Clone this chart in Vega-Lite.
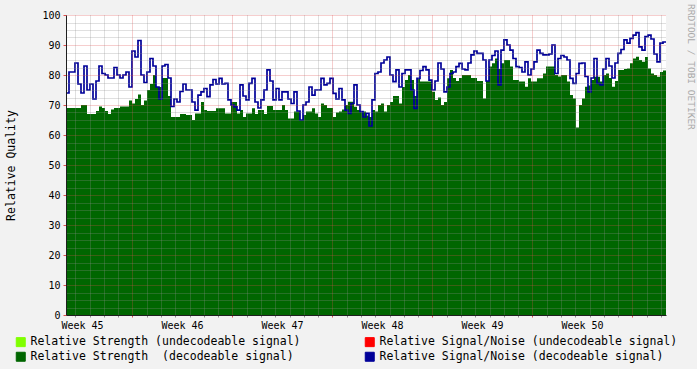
{
  "$schema": "https://vega.github.io/schema/vega-lite/v6.json",
  "width": 600,
  "height": 300,
  "autosize": {"type": "none"},
  "padding": {"left": 66, "top": 15, "right": 31, "bottom": 54},
  "background": "#f2f2f2",
  "title": {"text": "RRDTOOL / TOBI OETIKER", "orient": "right", "anchor": "start", "font": "DejaVu Sans Mono", "fontSize": 9.5, "fontWeight": "normal", "color": "#a8a8a8", "offset": 8, "dx": -6},
  "data": {"values": [
    {"t":0,"strength":69,"sn":74},{"t":0.21,"strength":69,"sn":81},{"t":0.42,"strength":69,"sn":81},{"t":0.63,"strength":69,"sn":84},{"t":0.84,"strength":69,"sn":77},
    {"t":1.05,"strength":70,"sn":74},{"t":1.26,"strength":70,"sn":83},{"t":1.47,"strength":67,"sn":75},{"t":1.68,"strength":67,"sn":77},{"t":1.89,"strength":67,"sn":72},
    {"t":2.1,"strength":68,"sn":78},{"t":2.31,"strength":69.5,"sn":83},{"t":2.52,"strength":69,"sn":80.5},{"t":2.73,"strength":68,"sn":80},{"t":2.94,"strength":67,"sn":79},
    {"t":3.15,"strength":68.5,"sn":79},{"t":3.36,"strength":69,"sn":82.5},{"t":3.57,"strength":69,"sn":80},{"t":3.78,"strength":69.5,"sn":79},{"t":3.99,"strength":69.5,"sn":80},
    {"t":4.2,"strength":69.5,"sn":81},{"t":4.41,"strength":71.5,"sn":76},{"t":4.62,"strength":70.5,"sn":88},{"t":4.83,"strength":72,"sn":86},{"t":5.04,"strength":73.5,"sn":91.5},
    {"t":5.25,"strength":70,"sn":80},{"t":5.46,"strength":71.5,"sn":77.5},{"t":5.67,"strength":75,"sn":81},{"t":5.88,"strength":77,"sn":85.5},{"t":6.09,"strength":80,"sn":83},
    {"t":6.3,"strength":76,"sn":76},{"t":6.51,"strength":76,"sn":72},{"t":6.72,"strength":79,"sn":83},{"t":6.93,"strength":79,"sn":83.5},{"t":7.14,"strength":73,"sn":79},
    {"t":7.35,"strength":66,"sn":69.5},{"t":7.56,"strength":66,"sn":72},{"t":7.77,"strength":66,"sn":71},{"t":7.98,"strength":67,"sn":74.5},{"t":8.19,"strength":67,"sn":77},
    {"t":8.4,"strength":66.7,"sn":75},{"t":8.61,"strength":66.7,"sn":75},{"t":8.82,"strength":65,"sn":71},{"t":9.03,"strength":67.2,"sn":68.3},{"t":9.24,"strength":67.2,"sn":73.3},
    {"t":9.45,"strength":71,"sn":74.4},{"t":9.66,"strength":68.3,"sn":75.5},{"t":9.87,"strength":68,"sn":72.8},{"t":10.08,"strength":68,"sn":76.7},{"t":10.29,"strength":68,"sn":78.5},
    {"t":10.5,"strength":68.9,"sn":77},{"t":10.71,"strength":68.9,"sn":78.9},{"t":10.92,"strength":68.9,"sn":77},{"t":11.13,"strength":67.2,"sn":77.2},{"t":11.34,"strength":67.2,"sn":71.7},
    {"t":11.55,"strength":71,"sn":70},{"t":11.76,"strength":71,"sn":69.4},{"t":11.97,"strength":67.2,"sn":68.3},{"t":12.18,"strength":68.3,"sn":76.7},{"t":12.39,"strength":66,"sn":73},
    {"t":12.6,"strength":67.2,"sn":71.7},{"t":12.81,"strength":67.2,"sn":77.2},{"t":13.02,"strength":68.9,"sn":78.9},{"t":13.23,"strength":67,"sn":71},{"t":13.44,"strength":68.3,"sn":69},
    {"t":13.65,"strength":68.3,"sn":71.7},{"t":13.86,"strength":67,"sn":75},{"t":14.07,"strength":69.7,"sn":81.7},{"t":14.28,"strength":69.7,"sn":78},{"t":14.49,"strength":68.3,"sn":71.7},
    {"t":14.7,"strength":68.3,"sn":75.5},{"t":14.91,"strength":68.3,"sn":71.7},{"t":15.12,"strength":70,"sn":74.4},{"t":15.33,"strength":68.3,"sn":74.4},{"t":15.54,"strength":65.5,"sn":72},
    {"t":15.75,"strength":65.5,"sn":70.5},{"t":15.96,"strength":67.8,"sn":74.4},{"t":16.17,"strength":67.8,"sn":68},{"t":16.38,"strength":65,"sn":65},{"t":16.59,"strength":66.7,"sn":70},
    {"t":16.8,"strength":67.8,"sn":71},{"t":17.01,"strength":67.8,"sn":76},{"t":17.22,"strength":68.9,"sn":73.3},{"t":17.43,"strength":67.2,"sn":75},{"t":17.64,"strength":66,"sn":75},
    {"t":17.85,"strength":70.5,"sn":78.9},{"t":18.06,"strength":70,"sn":76.7},{"t":18.27,"strength":69,"sn":77.2},{"t":18.48,"strength":69,"sn":78.9},{"t":18.69,"strength":66,"sn":73.9},
    {"t":18.9,"strength":67.5,"sn":72},{"t":19.11,"strength":67.8,"sn":75.5},{"t":19.32,"strength":68.5,"sn":71.7},{"t":19.53,"strength":70,"sn":68.3},{"t":19.74,"strength":71.1,"sn":67.2},
    {"t":19.95,"strength":71.1,"sn":70.5},{"t":20.16,"strength":69.4,"sn":76.7},{"t":20.37,"strength":68.3,"sn":70},{"t":20.58,"strength":67.8,"sn":67.8},{"t":20.79,"strength":67.8,"sn":66},
    {"t":21,"strength":66.5,"sn":67.2},{"t":21.21,"strength":66,"sn":63},{"t":21.42,"strength":68.3,"sn":71.7},{"t":21.63,"strength":67.8,"sn":80.5},{"t":21.84,"strength":70,"sn":81},
    {"t":22.05,"strength":70.5,"sn":84},{"t":22.26,"strength":67.8,"sn":85},{"t":22.47,"strength":70,"sn":86},{"t":22.68,"strength":71,"sn":80},{"t":22.89,"strength":73,"sn":77.8},
    {"t":23.1,"strength":73,"sn":81.7},{"t":23.31,"strength":70.5,"sn":76},{"t":23.52,"strength":76,"sn":80.5},{"t":23.73,"strength":78.3,"sn":81.7},{"t":23.94,"strength":80,"sn":81.7},
    {"t":24.15,"strength":78.3,"sn":75},{"t":24.36,"strength":73,"sn":68.9},{"t":24.57,"strength":78.9,"sn":78.9},{"t":24.78,"strength":77.8,"sn":81.5},{"t":24.99,"strength":77.8,"sn":82.8},
    {"t":25.2,"strength":77.8,"sn":81.7},{"t":25.41,"strength":77.8,"sn":78.3},{"t":25.62,"strength":74.4,"sn":75},{"t":25.83,"strength":71.7,"sn":78},{"t":26.04,"strength":72.5,"sn":84},
    {"t":26.25,"strength":70,"sn":82},{"t":26.46,"strength":71,"sn":74.4},{"t":26.67,"strength":78.9,"sn":76},{"t":26.88,"strength":81.7,"sn":80.5},{"t":27.09,"strength":79,"sn":81},
    {"t":27.3,"strength":78,"sn":82.8},{"t":27.51,"strength":79,"sn":83.9},{"t":27.72,"strength":80,"sn":82},{"t":27.93,"strength":80,"sn":81.7},{"t":28.14,"strength":80,"sn":84},
    {"t":28.35,"strength":79,"sn":86.7},{"t":28.56,"strength":79,"sn":88},{"t":28.77,"strength":78,"sn":87.2},{"t":28.98,"strength":78,"sn":87.2},{"t":29.19,"strength":72.2,"sn":85},
    {"t":29.4,"strength":78,"sn":78},{"t":29.61,"strength":82.8,"sn":85},{"t":29.82,"strength":83.9,"sn":86.5},{"t":30.03,"strength":85.5,"sn":88},{"t":30.24,"strength":82,"sn":76.7},
    {"t":30.45,"strength":83.9,"sn":88.3},{"t":30.66,"strength":85,"sn":91.7},{"t":30.87,"strength":85,"sn":90},{"t":31.08,"strength":82.8,"sn":88.3},{"t":31.29,"strength":78.3,"sn":85.5},
    {"t":31.5,"strength":78.3,"sn":82.8},{"t":31.71,"strength":77.8,"sn":82.5},{"t":31.92,"strength":77.8,"sn":81},{"t":32.13,"strength":76.1,"sn":84.4},{"t":32.34,"strength":78.9,"sn":80},
    {"t":32.55,"strength":77.8,"sn":82},{"t":32.76,"strength":77.8,"sn":84.4},{"t":32.97,"strength":78.9,"sn":88.3},{"t":33.18,"strength":78.9,"sn":87.2},{"t":33.39,"strength":80.5,"sn":86.7},
    {"t":33.6,"strength":82.8,"sn":86.7},{"t":33.81,"strength":82.8,"sn":87},{"t":34.02,"strength":82.8,"sn":90},{"t":34.23,"strength":80,"sn":80.5},{"t":34.44,"strength":79.5,"sn":85.5},
    {"t":34.65,"strength":80,"sn":86.5},{"t":34.86,"strength":80,"sn":86},{"t":35.07,"strength":77.8,"sn":85},{"t":35.28,"strength":73.3,"sn":78.9},{"t":35.49,"strength":72.2,"sn":77.2},
    {"t":35.7,"strength":62.5,"sn":80.5},{"t":35.91,"strength":70,"sn":83.9},{"t":36.12,"strength":72.2,"sn":84},{"t":36.33,"strength":76.1,"sn":79.5},{"t":36.54,"strength":76.5,"sn":74.4},
    {"t":36.75,"strength":78.3,"sn":79},{"t":36.96,"strength":79.4,"sn":85.5},{"t":37.17,"strength":79.4,"sn":77.2},{"t":37.38,"strength":77.8,"sn":76.7},{"t":37.59,"strength":80,"sn":82},
    {"t":37.8,"strength":80.5,"sn":85.5},{"t":38.01,"strength":79,"sn":83},{"t":38.22,"strength":76.1,"sn":79},{"t":38.43,"strength":78,"sn":84},{"t":38.64,"strength":81.7,"sn":87.2},
    {"t":38.85,"strength":81.7,"sn":88.5},{"t":39.06,"strength":82,"sn":91.7},{"t":39.27,"strength":82.2,"sn":90.6},{"t":39.48,"strength":83.9,"sn":92.2},{"t":39.69,"strength":85.5,"sn":93.3},
    {"t":39.9,"strength":86.1,"sn":94.1},{"t":40.11,"strength":85,"sn":89.4},{"t":40.32,"strength":84.4,"sn":88.3},{"t":40.53,"strength":86,"sn":92.8},{"t":40.74,"strength":82.2,"sn":93.3},
    {"t":40.95,"strength":80.5,"sn":92},{"t":41.16,"strength":80,"sn":87},{"t":41.37,"strength":79.4,"sn":84.4},{"t":41.58,"strength":81,"sn":90.6},{"t":41.79,"strength":81.5,"sn":91},
    {"t":42,"strength":81.5,"sn":91}
  ]},
  "encoding": {
    "x": {
      "field": "t", "type": "quantitative",
      "scale": {"domain": [0, 42], "nice": false, "zero": false},
      "axis": {
        "title": null,
        "values": [0.65,1.65,2.65,3.65,4.65,5.65,6.65,7.65,8.65,9.65,10.65,11.65,12.65,13.65,14.65,15.65,16.65,17.65,18.65,19.65,20.65,21.65,22.65,23.65,24.65,25.65,26.65,27.65,28.65,29.65,30.65,31.65,32.65,33.65,34.65,35.65,36.65,37.65,38.65,39.65,40.65,41.65],
        "labelExpr": "indexof([0.65,7.65,14.65,21.65,28.65,35.65], datum.value) >= 0 ? 'Week ' + (45 + round((datum.value - 0.65) / 7)) : ''",
        "labelOffset": 6.7,
        "labelAlign": "center",
        "labelBaseline": "top",
        "labelFlush": false,
        "labelOverlap": false,
        "labelPadding": 3,
        "labelFont": "DejaVu Sans Mono",
        "labelFontSize": 10,
        "labelColor": "#000000",
        "tickSize": 2,
        "tickColor": {"condition": {"test": "indexof([4.65,11.65,18.65,25.65,32.65,39.65], datum.value) >= 0", "value": "#de4f4f"}, "value": "#8f8f8f"},
        "grid": true,
        "gridColor": {"condition": {"test": "indexof([4.65,11.65,18.65,25.65,32.65,39.65], datum.value) >= 0", "value": "#de4f4f"}, "value": "#8f8f8f"},
        "gridDash": [1, 1],
        "gridOpacity": 0.55,
        "domainColor": "#1f1f1f",
        "zindex": 1
      }
    }
  },
  "layer": [
    {
      "mark": {"type": "area", "interpolate": "step-after"},
      "encoding": {
        "y": {
          "field": "strength", "type": "quantitative", "title": "Relative Quality",
          "scale": {"domain": [0, 100], "nice": false, "zero": true},
          "axis": {
            "values": [0,2.5,5,7.5,10,12.5,15,17.5,20,22.5,25,27.5,30,32.5,35,37.5,40,42.5,45,47.5,50,52.5,55,57.5,60,62.5,65,67.5,70,72.5,75,77.5,80,82.5,85,87.5,90,92.5,95,97.5,100],
            "labelExpr": "datum.value % 10 === 0 ? datum.label : ''",
            "labelFont": "DejaVu Sans Mono",
            "labelFontSize": 10,
            "labelColor": "#000000",
            "labelPadding": 3,
            "labelOverlap": false,
            "labelFlush": false,
            "tickSize": 3,
            "tickColor": {"condition": {"test": "datum.value % 10 === 0", "value": "#de4f4f"}, "value": "#8f8f8f"},
            "tickOpacity": {"condition": {"test": "datum.value % 10 === 0", "value": 1}, "value": 0},
            "grid": true,
            "gridColor": {"condition": {"test": "datum.value % 10 === 0", "value": "#de4f4f"}, "value": "#8f8f8f"},
            "gridDash": [1, 1],
            "gridOpacity": 0.55,
            "domainColor": "#1f1f1f",
            "titleFont": "DejaVu Sans Mono",
            "titleFontSize": 11.5,
            "titleFontWeight": "normal",
            "titleColor": "#000000",
            "titleAngle": -90,
            "titleX": -55,
            "titleY": 150,
            "titleAlign": "center",
            "titleBaseline": "middle",
            "zindex": 1
          }
        },
        "color": {
          "datum": "Relative Strength \u00a0(decodeable signal)",
          "scale": {
            "domain": ["Relative Strength (undecodeable signal)", "Relative Strength \u00a0(decodeable signal)", "Relative Signal/Noise (undecodeable signal)", "Relative Signal/Noise (decodeable signal)"],
            "range": ["#80ff00", "#006600", "#ff0000", "#000099"]
          },
          "legend": {
            "title": null,
            "orient": "none",
            "legendX": -51,
            "legendY": 321,
            "columns": 2,
            "columnPadding": 62,
            "rowPadding": 1,
            "padding": 0,
            "symbolType": "square",
            "symbolSize": 81,
            "symbolStrokeWidth": 1,
            "symbolStrokeColor": "#000000",
            "symbolOpacity": 1,
            "labelFont": "DejaVu Sans Mono",
            "labelFontSize": 11.5,
            "labelColor": "#000000",
            "labelOffset": 4,
            "labelLimit": 400,
            "encode": {"symbols": {"update": {"fill": {"scale": "color", "field": "value"}, "stroke": {"value": "#000000"}, "strokeWidth": {"value": 1}, "opacity": {"value": 1}}}}
          }
        }
      }
    },
    {
      "mark": {"type": "line", "interpolate": "step-after", "strokeWidth": 1.7},
      "encoding": {
        "y": {
          "field": "sn", "type": "quantitative", "title": "Relative Quality",
          "axis": {
            "values": [0,2.5,5,7.5,10,12.5,15,17.5,20,22.5,25,27.5,30,32.5,35,37.5,40,42.5,45,47.5,50,52.5,55,57.5,60,62.5,65,67.5,70,72.5,75,77.5,80,82.5,85,87.5,90,92.5,95,97.5,100],
            "labelExpr": "datum.value % 10 === 0 ? datum.label : ''",
            "labelFont": "DejaVu Sans Mono",
            "labelFontSize": 10,
            "labelColor": "#000000",
            "labelPadding": 3,
            "labelOverlap": false,
            "labelFlush": false,
            "tickSize": 3,
            "tickColor": {"condition": {"test": "datum.value % 10 === 0", "value": "#de4f4f"}, "value": "#8f8f8f"},
            "tickOpacity": {"condition": {"test": "datum.value % 10 === 0", "value": 1}, "value": 0},
            "grid": true,
            "gridColor": {"condition": {"test": "datum.value % 10 === 0", "value": "#de4f4f"}, "value": "#8f8f8f"},
            "gridDash": [1, 1],
            "gridOpacity": 0.55,
            "domainColor": "#1f1f1f",
            "titleFont": "DejaVu Sans Mono",
            "titleFontSize": 11.5,
            "titleFontWeight": "normal",
            "titleColor": "#000000",
            "titleAngle": -90,
            "titleX": -55,
            "titleY": 150,
            "titleAlign": "center",
            "titleBaseline": "middle",
            "zindex": 1
          }
        },
        "color": {"datum": "Relative Signal/Noise (decodeable signal)"}
      }
    }
  ],
  "config": {"view": {"stroke": null, "fill": "#ffffff"}}
}
